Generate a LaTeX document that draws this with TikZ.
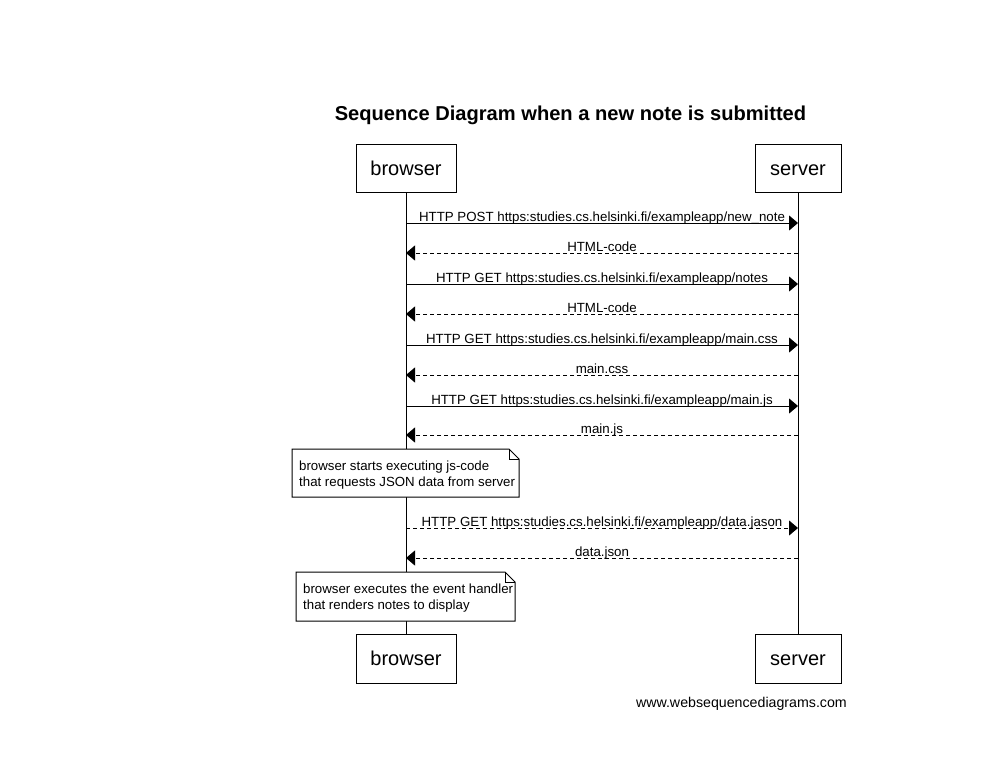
\documentclass[tikz,border=0pt]{standalone}
\usepackage{fontspec}
\setmainfont{Liberation Sans}
\usetikzlibrary{arrows.meta}
\begin{document}
\begin{tikzpicture}[x=1pt,y=-1pt,
  actor/.style={draw,line width=1pt,fill=white,inner sep=0pt,text height=16pt,text depth=2pt,font=\fontsize{20}{24}\selectfont},
  msg/.style={line width=1pt,-{Triangle[length=9pt,width=15pt]}},
  reply/.style={msg,dash pattern=on 4pt off 3pt},
  lbl/.style={midway,anchor=base,yshift=2pt,inner sep=0pt,font=\fontsize{13.3}{15}\selectfont},
  notetext/.style={inner sep=0pt,align=left,font=\fontsize{13.25}{16}\selectfont},
  life/.style={line width=1pt}]
\useasboundingbox (0,0) rectangle (1001,780);
\fill[white] (0,0) rectangle (1001,780);

\node[font=\bfseries\fontsize{20.1}{24}\selectfont] (title) at (570.5,115.5) {Sequence Diagram when a new note is submitted};

\node[actor,minimum width=100pt,minimum height=48pt] (bt) at (406,168) {browser};
\node[actor,minimum width=86pt,minimum height=48pt] (st) at (798,168) {server};
\node[actor,minimum width=100pt,minimum height=49pt] (bb) at (406,658.5) {browser};
\node[actor,minimum width=86pt,minimum height=49pt] (sb) at (798,658.5) {server};

\draw[life] (bt.south) -- (bb.north);
\draw[life] (st.south) -- (sb.north);

\foreach \n/\y in {1/223,2/253,3/284,4/314,5/345,6/375,7/406,8/435,9/528,10/558}{
  \coordinate (b\n) at (406,\y);
  \coordinate (s\n) at (798,\y);
}

\draw[msg] (b1) -- (s1) node[lbl] {HTTP POST https:studies.cs.helsinki.fi/exampleapp/new\_note};
\draw[reply] (s2) -- (b2) node[lbl] {HTML-code};
\draw[msg] (b3) -- (s3) node[lbl] {HTTP GET https:studies.cs.helsinki.fi/exampleapp/notes};
\draw[reply] (s4) -- (b4) node[lbl] {HTML-code};
\draw[msg] (b5) -- (s5) node[lbl] {HTTP GET https:studies.cs.helsinki.fi/exampleapp/main.css};
\draw[reply] (s6) -- (b6) node[lbl] {main.css};
\draw[msg] (b7) -- (s7) node[lbl] {HTTP GET https:studies.cs.helsinki.fi/exampleapp/main.js};
\draw[reply] (s8) -- (b8) node[lbl] {main.js};
\draw[reply] (b9) -- (s9) node[lbl] {HTTP GET https:studies.cs.helsinki.fi/exampleapp/data.jason};
\draw[reply] (s10) -- (b10) node[lbl] {data.json};

% note 1
\fill[white] (292,449) -- (509,449) -- (519,459) -- (519,497) -- (292,497) -- cycle;
\draw[line width=1pt] (292,449) -- (509,449) -- (519,459) -- (519,497) -- (292,497) -- cycle;
\draw[line width=1pt] (509,449) -- (509,459) -- (519,459);
\node[notetext,anchor=west] (note1) at (299,475) {browser starts executing js-code\\that requests JSON data from server};

% note 2
\fill[white] (296,572) -- (505,572) -- (515,582) -- (515,621) -- (296,621) -- cycle;
\draw[line width=1pt] (296,572) -- (505,572) -- (515,582) -- (515,621) -- (296,621) -- cycle;
\draw[line width=1pt] (505,572) -- (505,582) -- (515,582);
\node[notetext,anchor=west] (note2) at (303,598.5) {browser executes the event handler\\that renders notes to display};

\node[anchor=east,inner sep=0pt,font=\fontsize{14.2}{16}\selectfont] (footer) at (847,704) {www.websequencediagrams.com};
\end{tikzpicture}
\end{document}
